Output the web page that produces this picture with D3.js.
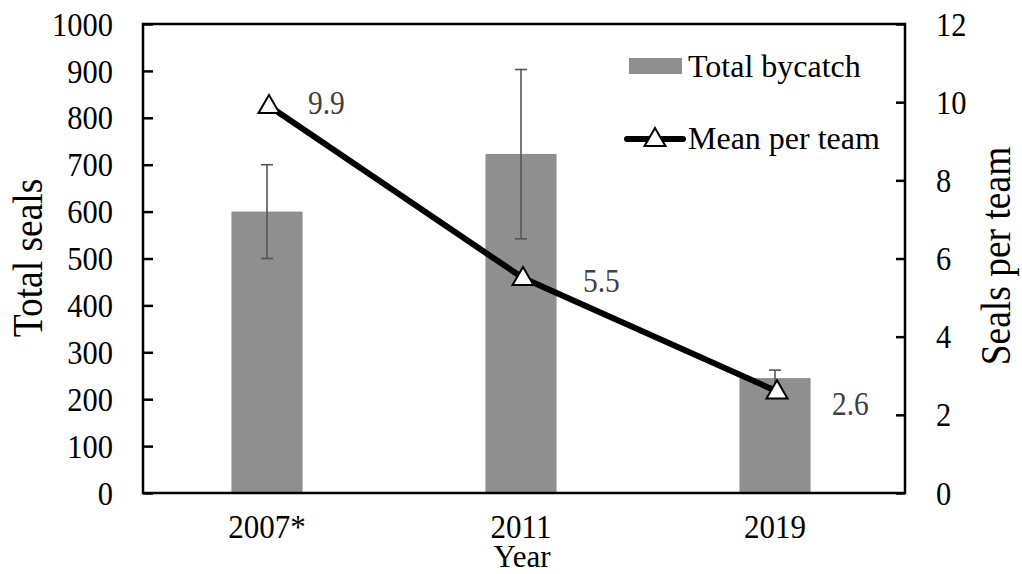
<!DOCTYPE html>
<html>
<head>
<meta charset="utf-8">
<script src="https://cdn.jsdelivr.net/npm/d3@7"></script>
<style>
  html, body { margin: 0; padding: 0; background: #fff; }
  svg { display: block; }
  text { font-family: "Liberation Serif", "Times New Roman", serif; }
</style>
</head>
<body>
<svg id="chart" width="1022" height="574"></svg>
<script>
// Seal bycatch by survey year
const years = ["2007*", "2011", "2019"];
const totalBycatch = [600, 723, 245];
const bycatchLow = [500, 542, 228];
const bycatchHigh = [700, 903, 262];
const meanPerTeam = [9.9, 5.5, 2.6];
const leftTicks = [0, 100, 200, 300, 400, 500, 600, 700, 800, 900, 1000];
const rightTicks = [0, 2, 4, 6, 8, 10, 12];

const svg = d3.select("#chart");
const plot = { left: 143, right: 905, top: 24, bottom: 493 };
const tickFont = 30.5;
const catFont = 31;
const legendFont = 32;
const titleFont = 37.5;
const stretch = 1.12; // slightly tall glyphs

const x = d3.scaleBand().domain(years).range([plot.left - 3, plot.right - 3]).padding(0);
const cx = d => x(d) + x.bandwidth() / 2;
const barW = x.step() * 0.28;
const yL = d3.scaleLinear().domain([0, 1000]).range([plot.bottom, plot.top]);
const yR = d3.scaleLinear().domain([0, 12]).range([plot.bottom, plot.top]);

const at = (px, py) => `translate(${px},${py}) scale(1,${stretch})`;

// Bars
svg.append("g").selectAll("rect").data(years).join("rect")
  .attr("x", d => cx(d) - barW / 2)
  .attr("width", barW)
  .attr("y", (d, i) => yL(totalBycatch[i]))
  .attr("height", (d, i) => yL(0) - yL(totalBycatch[i]))
  .attr("fill", "#8f8f8f");

// Error bars
const eb = svg.append("g").attr("stroke", "#555").attr("stroke-width", 1.6);
years.forEach((d, i) => {
  const c = cx(d);
  eb.append("line").attr("x1", c).attr("x2", c).attr("y1", yL(bycatchLow[i])).attr("y2", yL(bycatchHigh[i]));
  eb.append("line").attr("x1", c - 6).attr("x2", c + 6).attr("y1", yL(bycatchHigh[i])).attr("y2", yL(bycatchHigh[i]));
  eb.append("line").attr("x1", c - 6).attr("x2", c + 6).attr("y1", yL(bycatchLow[i])).attr("y2", yL(bycatchLow[i]));
});

// Mean per team line
const pts = years.map((d, i) => [cx(d) + 2, yR(meanPerTeam[i])]);
svg.append("path")
  .attr("d", d3.line()(pts))
  .attr("fill", "none").attr("stroke", "#000").attr("stroke-width", 6)
  .attr("stroke-linejoin", "round");

const tri = d3.symbol().type(d3.symbolTriangle).size(190);
svg.append("g").selectAll("path").data(pts).join("path")
  .attr("d", tri)
  .attr("transform", p => `translate(${p[0]},${p[1] + 1})`)
  .attr("fill", "#fff").attr("stroke", "#000").attr("stroke-width", 2);

// Value labels
const labelOffsets = [[39, -3], [60, 3], [55, 13]];
svg.append("g").selectAll("text").data(pts).join("text")
  .attr("transform", (p, i) => at(p[0] + labelOffsets[i][0], p[1] + labelOffsets[i][1]))
  .attr("dominant-baseline", "central")
  .attr("font-size", 29.5)
  .attr("fill", "#404040")
  .text((p, i) => meanPerTeam[i].toFixed(1));

// Frame
svg.append("rect")
  .attr("x", plot.left).attr("y", plot.top)
  .attr("width", plot.right - plot.left).attr("height", plot.bottom - plot.top)
  .attr("fill", "none").attr("stroke", "#000").attr("stroke-width", 2.5);

// Left axis (ticks point inward)
const axL = svg.append("g").attr("transform", `translate(${plot.left},0)`)
  .call(d3.axisRight(yL).tickValues(leftTicks).tickSize(10).tickFormat(""));
axL.select(".domain").remove();
axL.selectAll("line").attr("stroke", "#000").attr("stroke-width", 2.5);
svg.append("g").selectAll("text").data(leftTicks).join("text")
  .attr("transform", d => at(113, yL(d)))
  .attr("text-anchor", "end").attr("dominant-baseline", "central")
  .attr("font-size", tickFont).attr("fill", "#000")
  .text(d => d);

// Right axis (ticks point inward)
const axR = svg.append("g").attr("transform", `translate(${plot.right},0)`)
  .call(d3.axisLeft(yR).tickValues(rightTicks).tickSize(9).tickFormat(""));
axR.select(".domain").remove();
axR.selectAll("line").attr("stroke", "#000").attr("stroke-width", 2.5);
svg.append("g").selectAll("text").data(rightTicks).join("text")
  .attr("transform", d => at(936, yR(d)))
  .attr("text-anchor", "start").attr("dominant-baseline", "central")
  .attr("font-size", tickFont).attr("fill", "#000")
  .text(d => d);

// Category labels
svg.append("g").selectAll("text").data(years).join("text")
  .attr("transform", d => at(cx(d), 538))
  .attr("text-anchor", "middle")
  .attr("font-size", catFont).attr("fill", "#000")
  .text(d => d);

// Axis titles
svg.append("text").attr("x", 522).attr("y", 566.5)
  .attr("text-anchor", "middle")
  .attr("font-size", catFont).text("Year");
svg.append("text").attr("transform", `translate(28,258) rotate(-90) scale(1,${stretch})`)
  .attr("text-anchor", "middle").attr("dominant-baseline", "central")
  .attr("font-size", titleFont).text("Total seals");
svg.append("text").attr("transform", `translate(996,256) rotate(-90) scale(1,${stretch})`)
  .attr("text-anchor", "middle").attr("dominant-baseline", "central")
  .attr("font-size", titleFont).text("Seals per team");

// Legend
const lg = svg.append("g");
lg.append("rect").attr("x", 629).attr("y", 58).attr("width", 53).attr("height", 16).attr("fill", "#8f8f8f");
lg.append("text").attr("x", 688).attr("y", 66).attr("dominant-baseline", "central")
  .attr("font-size", legendFont).text("Total bycatch");
lg.append("line").attr("x1", 627).attr("x2", 683).attr("y1", 139).attr("y2", 139)
  .attr("stroke", "#000").attr("stroke-width", 6).attr("stroke-linecap", "round");
lg.append("path").attr("d", tri).attr("transform", "translate(655,140)")
  .attr("fill", "#fff").attr("stroke", "#000").attr("stroke-width", 2);
lg.append("text").attr("x", 688).attr("y", 138).attr("dominant-baseline", "central")
  .attr("font-size", legendFont).text("Mean per team");
</script>
</body>
</html>
